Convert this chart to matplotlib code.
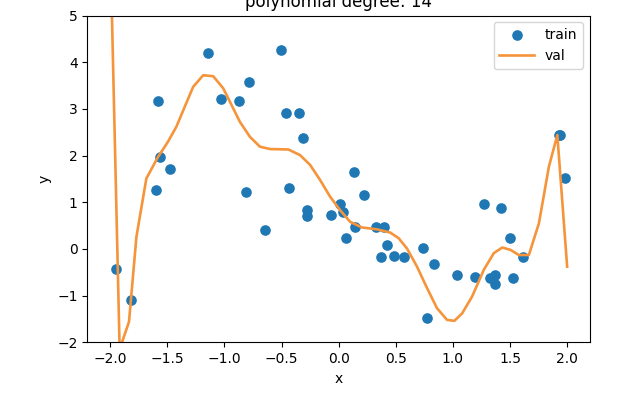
import matplotlib
matplotlib.use("Agg")
import matplotlib.pyplot as plt

train_x = [-1.946, -1.82, -1.601, -1.581, -1.566, -1.472, -1.142, -1.028, -0.870,
           -0.814, -0.788, -0.642, -0.502, -0.461, -0.434, -0.344, -0.314, -0.276,
           -0.276, -0.066, 0.016, 0.042, 0.063, 0.13, 0.145, 0.221, 0.329, 0.367,
           0.393, 0.423, 0.487, 0.569, 0.738, 0.774, 0.832, 1.037, 1.194, 1.274,
           1.329, 1.367, 1.367, 1.419, 1.498, 1.525, 1.616, 1.928, 1.935, 1.981]
train_y = [-0.43, -1.10, 1.27, 3.17, 1.97, 1.72, 4.19, 3.22, 3.17,
           1.21, 3.58, 0.40, 4.26, 2.91, 1.31, 2.91, 2.37, 0.83,
           0.70, 0.73, 0.955, 0.80, 0.24, 1.65, 0.475, 1.15, 0.475, -0.18,
           0.475, 0.08, -0.145, -0.18, 0.02, -1.49, -0.33, -0.56, -0.595, 0.955,
           -0.62, -0.56, -0.75, 0.88, 0.24, -0.62, -0.17, 2.45, 2.43, 1.52]

val_x = [-1.990, -1.917, -1.835, -1.77, -1.683, -1.581, -1.493, -1.42, -1.274,
         -1.186, -1.098, -1.01, -0.864, -0.776, -0.689, -0.601, -0.44, -0.338,
         -0.25, -0.162, -0.075, 0.013, 0.101, 0.204, 0.335, 0.452, 0.525, 0.598,
         0.686, 0.774, 0.861, 0.949, 1.013, 1.081, 1.168, 1.270, 1.358, 1.432,
         1.504, 1.577, 1.665, 1.753, 1.840, 1.914, 2.0]
val_y = [5.6, -2.15, -1.56, 0.26, 1.51, 1.97, 2.30, 2.62, 3.47,
         3.72, 3.70, 3.44, 2.72, 2.40, 2.19, 2.14, 2.13, 2.01,
         1.80, 1.475, 1.12, 0.83, 0.58, 0.46, 0.42, 0.35, 0.23, 0.01,
         -0.38, -0.84, -1.27, -1.52, -1.54, -1.38, -1.02, -0.45, -0.09, 0.03,
         -0.02, -0.13, -0.13, 0.55, 1.76, 2.44, -0.38]

title = "polynomial degree: 14"

fig = plt.figure(figsize=(6.26, 3.98), dpi=100)
ax = fig.add_axes([87.3 / 626, (398 - 342.3) / 398, (590 - 87.3) / 626, (342.3 - 15.5) / 398])
ax.scatter(train_x, train_y, color="#1f77b4", s=44, label="train")
ax.plot(val_x, val_y, color="#f5943a", lw=1.9, label="val")
ax.set_xlim(-2.2, 2.2)
ax.set_ylim(-2, 5)
ax.set_xlabel("x")
ax.set_ylabel("y")
ax.set_title(title)
ax.legend(loc="upper right", handlelength=2.5)
fig.savefig("out.png", dpi=100)
